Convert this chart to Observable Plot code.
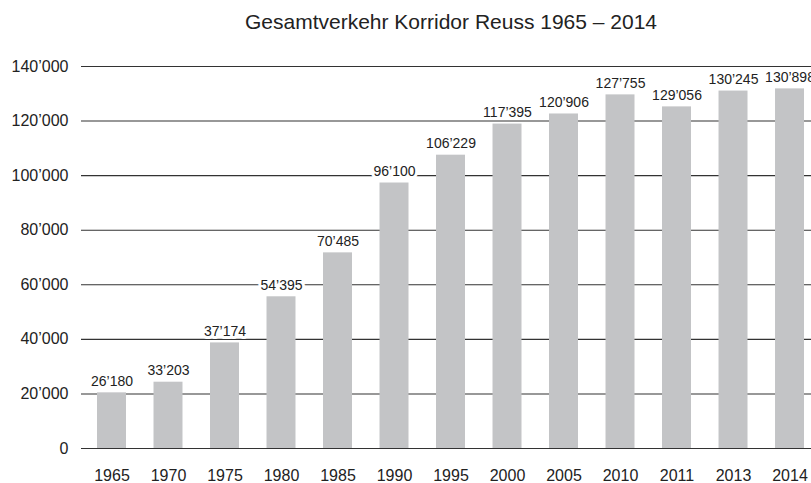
<!DOCTYPE html>
<html>
<head>
<meta charset="utf-8">
<script src="https://cdn.jsdelivr.net/npm/d3@7"></script>
<script src="https://cdn.jsdelivr.net/npm/@observablehq/plot@0.6"></script>
<style>
  html, body { margin: 0; padding: 0; background: #fff; }
  body { width: 811px; height: 483px; overflow: hidden; font-family: "Liberation Sans", Arial, sans-serif; }
  #title { position: relative; height: 40px; }
  #title span { position: absolute; left: 451px; top: 11px; transform: translateX(-50%); white-space: nowrap; font-size: 21px; color: #222; line-height: 21px; }
</style>
</head>
<body>
<div id="title"><span>Gesamtverkehr Korridor Reuss 1965 – 2014</span></div>
<div id="chart"></div>
<script>
const years = ["1965","1970","1975","1980","1985","1990","1995","2000","2005","2010","2011","2013","2014"];
const barValues = [20400, 24300, 38700, 55600, 71700, 97300, 107500, 118900, 122600, 129600, 125200, 131000, 131800];
const valueLabels = ["26’180","33’203","37’174","54’395","70’485","96’100","106’229","117’395","120’906","127’755","129’056","130’245","130’898"];
const yTicks = [0, 20000, 40000, 60000, 80000, 100000, 120000, 140000];

const data = years.map((y, i) => ({year: y, value: barValues[i], label: valueLabels[i]}));
const fmt = d => d3.format(",")(d).replace(/,/g, "’");

const chart = Plot.plot({
  width: 811,
  height: 443,
  marginLeft: 81,
  marginRight: 0,
  marginTop: 26,
  marginBottom: 35,
  style: {fontFamily: "'Liberation Sans', Arial, sans-serif", fontSize: "16px", color: "#222", background: "#fff"},
  x: {domain: years, paddingInner: 0.487, paddingOuter: 0.2035, align: 0.696, round: false, label: null},
  y: {domain: [0, 140000], label: null},
  marks: [
    Plot.ruleY(yTicks, {stroke: "#333", strokeWidth: 1.1}),
    Plot.barY(data, {x: "year", y: "value", fill: "#c3c4c6"}),
    Plot.text(data, {x: "year", y: "value", text: "label", dy: -7, lineAnchor: "bottom", fontSize: 14, fill: "#222", stroke: "white", strokeWidth: 6}),
    Plot.axisX({tickSize: 0, tickPadding: 21, fontSize: 16, label: null}),
    Plot.axisY({ticks: yTicks, tickSize: 0, tickPadding: 13, tickFormat: fmt, fontSize: 16, label: null})
  ]
});
document.getElementById("chart").appendChild(chart);
</script>
</body>
</html>
